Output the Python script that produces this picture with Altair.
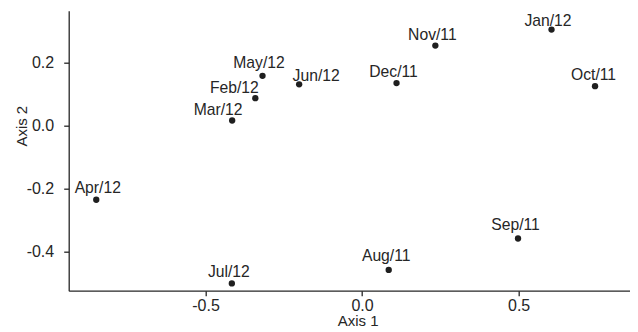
import altair as alt
import pandas as pd

labels = ["Aug/11", "Sep/11", "Oct/11", "Nov/11", "Dec/11", "Jan/12",
          "Feb/12", "Mar/12", "Apr/12", "May/12", "Jun/12", "Jul/12"]
axis1 = [0.085, 0.498, 0.744, 0.234, 0.110, 0.605,
         -0.341, -0.415, -0.849, -0.318, -0.201, -0.416]
axis2 = [-0.459, -0.359, 0.125, 0.254, 0.135, 0.305,
         0.087, 0.016, -0.236, 0.158, 0.131, -0.502]
x_ticks = [-0.5, 0.0, 0.5]
y_ticks = [-0.4, -0.2, 0.0, 0.2]

df = pd.DataFrame({"label": labels, "x": axis1, "y": axis2})

INK = "#262626"
FONT = "Liberation Sans"
lab_expr = "replace(format(datum.value, '.1f'), '\u2212', '-')"

xs = alt.Scale(domain=[-0.937, 0.877], nice=False, zero=False, range=[0, 568])
ys = alt.Scale(domain=[-0.525, 0.365], nice=False, zero=False)

xenc = alt.X("x:Q", scale=xs, axis=alt.Axis(
    title="Axis 1", values=x_ticks, labelExpr=lab_expr, labelPadding=1.5,
    titleX=289, titleY=23, titleBaseline="top", titleAlign="center"))
yenc = alt.Y("y:Q", scale=ys, axis=alt.Axis(
    title="Axis 2", values=y_ticks, labelExpr=lab_expr, labelPadding=10,
    titleX=-47, titleY=115, titleAngle=270, titleBaseline="middle", titleAlign="center"))

base = alt.Chart(df)
pts = base.mark_circle(size=40, color="#1f1f1f", opacity=1).encode(x=xenc, y=yenc)

# label placement (text offsets, as in the reference's repelled labels)
placement = [
    (["Nov/11", "Dec/11", "Jul/12"], -3, -6),
    (["Oct/11"], -1.5, -6),
    (["Apr/12"], 1.5, -7),
    (["May/12"], -3.5, -8),
    (["Jan/12"], -3.5, -4),
    (["Feb/12"], -21, -5),
    (["Mar/12"], -14, -5),
    (["Jun/12"], 17, -3),
    (["Aug/11", "Sep/11"], -2.5, -8.5),
]

layers = [pts]
for names, ddx, ddy in placement:
    layers.append(
        base.transform_filter(alt.FieldOneOfPredicate(field="label", oneOf=names))
        .mark_text(font=FONT, fontSize=15.7, color=INK, dx=ddx, dy=ddy,
                   baseline="alphabetic", align="center")
        .encode(x=alt.X("x:Q", scale=xs), y=alt.Y("y:Q", scale=ys), text="label:N")
    )

chart = alt.layer(*layers).properties(
    width=561, height=280,
    autosize=alt.AutoSizeParams(type="none"),
    padding={"left": 60.7, "top": 2.7, "right": 0, "bottom": 40},
).configure_view(stroke=None).configure_axis(
    grid=False, domainColor=INK, domainWidth=1.3, tickColor=INK, tickWidth=1.3,
    tickSize=5, labelFont=FONT, labelFontSize=16, labelColor=INK,
    titleFont=FONT, titleFontSize=15, titleFontWeight="normal", titleColor=INK,
)

chart.save("out.html", embed_options={"renderer": "svg", "actions": False})
